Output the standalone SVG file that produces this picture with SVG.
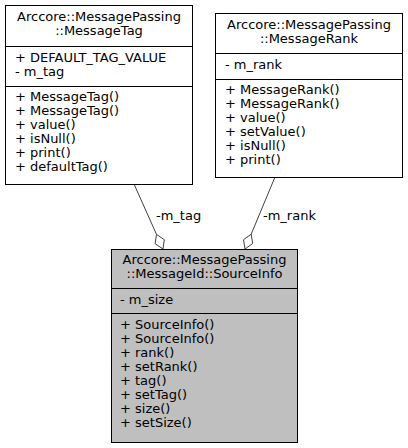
<svg xmlns="http://www.w3.org/2000/svg" width="408" height="448" viewBox="0 0 408 448">
<style>
text{font-family:"DejaVu Sans",sans-serif;font-size:13px;fill:#000}
.c{text-anchor:middle}
.box{stroke:#000;stroke-width:1}
.w{fill:#fff}
.g{fill:#bfbfbf}
.sep{stroke:#000;stroke-width:1}
.edge{stroke:#404040;stroke-width:1;fill:none}
.dia{fill:#fff;stroke:#404040;stroke-width:1}
</style>
<rect width="408" height="448" fill="#fff"/>
<g id="connectors">
<line class="edge" x1="134" y1="184" x2="156.5" y2="234.4"/>
<polygon class="dia" points="163,249 164.3,239.7 156.5,234.4 155.1,243.7"/>
<text x="156" y="220">-m_tag</text>
<line class="edge" x1="275" y1="177" x2="251.2" y2="234.2"/>
<polygon class="dia" points="245,249 252.7,243.5 251.2,234.2 243.5,239.7"/>
<text x="263" y="220">-m_rank</text>
</g>
<g id="MessageTag">
<rect class="box w" x="5.5" y="5.5" width="187" height="179"/>
<line class="sep" x1="5.5" y1="46.5" x2="192.5" y2="46.5"/>
<line class="sep" x1="5.5" y1="86.5" x2="192.5" y2="86.5"/>
<text class="c" x="99" y="21">Arccore::MessagePassing</text>
<text class="c" x="99" y="35">::MessageTag</text>
<text x="15" y="62">+ DEFAULT_TAG_VALUE</text>
<text x="15" y="76">- m_tag</text>
<text x="15" y="101">+ MessageTag()</text>
<text x="15" y="115">+ MessageTag()</text>
<text x="15" y="129">+ value()</text>
<text x="15" y="143">+ isNull()</text>
<text x="15" y="157">+ print()</text>
<text x="15" y="171">+ defaultTag()</text>
</g>
<g id="MessageRank">
<rect class="box w" x="215.5" y="13.5" width="187" height="164"/>
<line class="sep" x1="215.5" y1="53.5" x2="402.5" y2="53.5"/>
<line class="sep" x1="215.5" y1="79.5" x2="402.5" y2="79.5"/>
<text class="c" x="309" y="29">Arccore::MessagePassing</text>
<text class="c" x="309" y="43">::MessageRank</text>
<text x="225" y="69">- m_rank</text>
<text x="225" y="94">+ MessageRank()</text>
<text x="225" y="108">+ MessageRank()</text>
<text x="225" y="122">+ value()</text>
<text x="225" y="136">+ setValue()</text>
<text x="225" y="150">+ isNull()</text>
<text x="225" y="164">+ print()</text>
</g>
<g id="SourceInfo">
<rect class="box g" x="111.5" y="249.5" width="186" height="193"/>
<line class="sep" x1="111.5" y1="288.5" x2="297.5" y2="288.5"/>
<line class="sep" x1="111.5" y1="313.5" x2="297.5" y2="313.5"/>
<text class="c" x="204.5" y="264">Arccore::MessagePassing</text>
<text class="c" x="204.5" y="278">::MessageId::SourceInfo</text>
<text x="120" y="304">- m_size</text>
<text x="120" y="329">+ SourceInfo()</text>
<text x="120" y="343">+ SourceInfo()</text>
<text x="120" y="357">+ rank()</text>
<text x="120" y="371">+ setRank()</text>
<text x="120" y="385">+ tag()</text>
<text x="120" y="399">+ setTag()</text>
<text x="120" y="413">+ size()</text>
<text x="120" y="427">+ setSize()</text>
</g>
</svg>
